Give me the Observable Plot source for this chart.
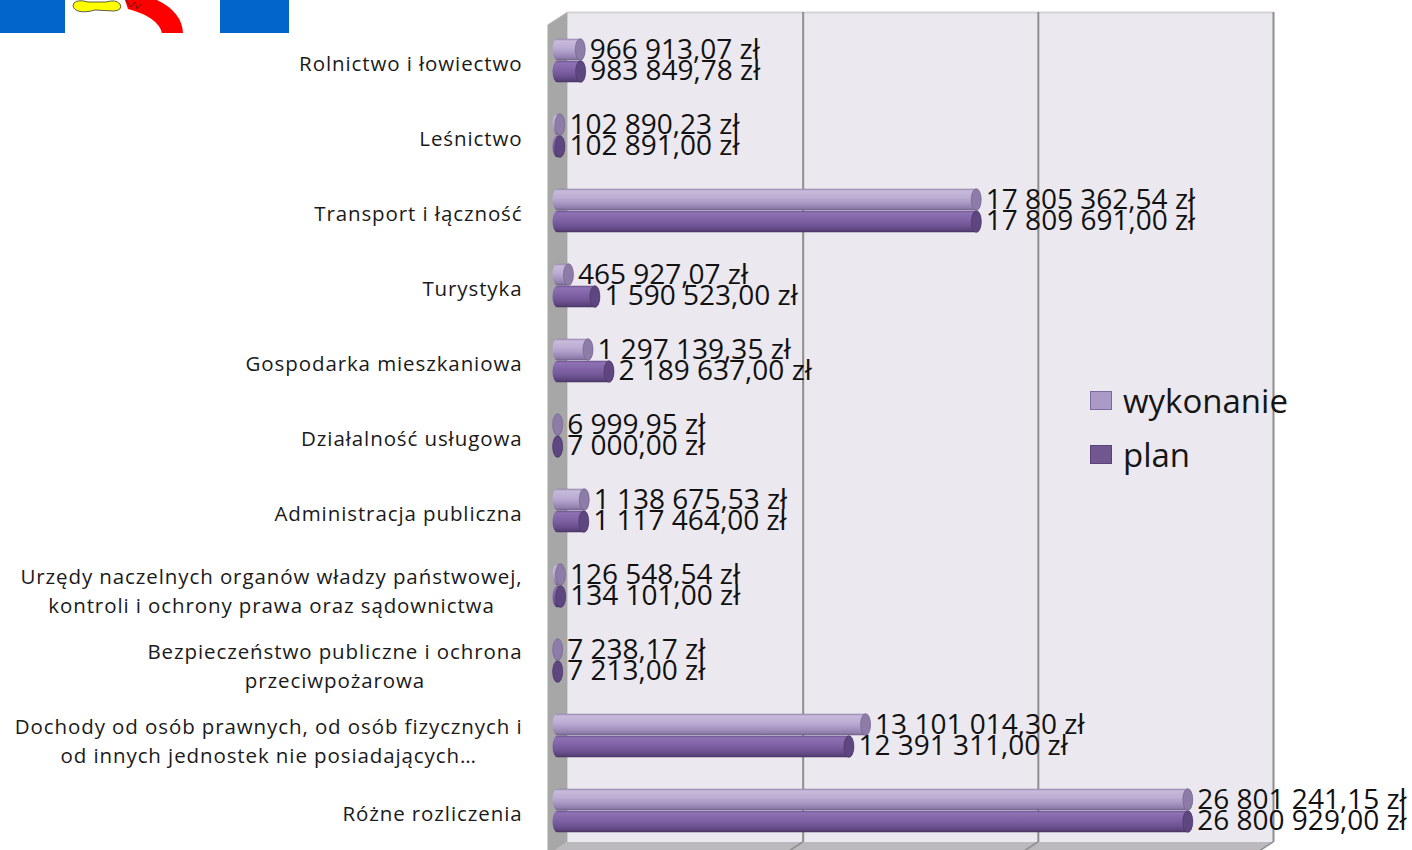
<!DOCTYPE html>
<html>
<head>
<meta charset="utf-8">
<script src="https://cdn.jsdelivr.net/npm/d3@7"></script>
<script src="https://cdn.jsdelivr.net/npm/@observablehq/plot@0.6"></script>
<style>
  html, body { margin: 0; padding: 0; background: #ffffff; }
  #wrap { position: relative; width: 1412px; height: 850px; overflow: hidden; font-family: "Open Sans", sans-serif; }
  #chart { position: absolute; left: 0; top: 0; }
  #logo { position: absolute; left: 0; top: 0; }
  #legend { position: absolute; left: 1090px; top: 378px; }
  .li { display: flex; align-items: center; height: 44px; margin-bottom: 10px; font-size: 33px; color: #151515; }
  .sw { display: inline-block; width: 22px; height: 19px; margin-right: 11px; box-sizing: border-box; }
  g.catlab text { letter-spacing: 0.9px; }
</style>
</head>
<body>
<div id="wrap">
  <div id="chart"></div>
  <svg id="logo" width="300" height="40" viewBox="0 0 300 40">
    <rect x="0" y="0" width="65" height="33" fill="#0066cc"/>
    <rect x="220" y="0" width="69" height="33" fill="#0066cc"/>
    <path d="M125,0 L157,0 Q182,12 183,33 L162,33 Q158,17 128,9 Z" fill="#ff0000"/>
    <path d="M74,3 Q78,-1 88,2 L106,2 Q116,-1 120,4 Q123,10 114,11 L95,10 Q85,13 78,11 Q71,8 74,3 Z" fill="#ffff00" stroke="#333" stroke-width="0.8"/>
    <path d="M126,0 L131,7 L135,2 L137,9 L141,4" fill="none" stroke="#7a1010" stroke-width="1"/>
  </svg>
  <div id="legend"></div>
</div>
<script>
// ---- data ----
const categories = [
  "Rolnictwo i łowiectwo",
  "Leśnictwo",
  "Transport i łączność",
  "Turystyka",
  "Gospodarka mieszkaniowa",
  "Działalność usługowa",
  "Administracja publiczna",
  "Urzędy naczelnych organów władzy państwowej, kontroli i ochrony prawa oraz sądownictwa",
  "Bezpieczeństwo publiczne i ochrona przeciwpożarowa",
  "Dochody od osób prawnych, od osób fizycznych i od innych jednostek nie posiadających...",
  "Różne rozliczenia"
];
const categoryLabels = [
  "Rolnictwo i łowiectwo",
  "Leśnictwo",
  "Transport i łączność",
  "Turystyka",
  "Gospodarka mieszkaniowa",
  "Działalność usługowa",
  "Administracja publiczna",
  "Urzędy naczelnych organów władzy państwowej,\nkontroli i ochrony prawa oraz sądownictwa",
  "Bezpieczeństwo publiczne i ochrona\nprzeciwpożarowa",
  "Dochody od osób prawnych, od osób fizycznych i\nod innych jednostek nie posiadających…",
  "Różne rozliczenia"
];
const wykonanie = [966913.07, 102890.23, 17805362.54, 465927.07, 1297139.35, 6999.95, 1138675.53, 126548.54, 7238.17, 13101014.30, 26801241.15];
const plan = [983849.78, 102891.00, 17809691.00, 1590523.00, 2189637.00, 7000.00, 1117464.00, 134101.00, 7213.00, 12391311.00, 26800929.00];
const seriesNames = ["wykonanie", "plan"];
const xTicks = [0, 10000000, 20000000, 30000000];

// ---- helpers ----
const fmt = d3.formatLocale({decimal: ",", thousands: " ", grouping: [3], currency: ["", ""]}).format(",.2f");
const money = v => fmt(v) + " zł";
const rowsW = categories.map((c, i) => ({category: c, value: wykonanie[i]}));
const rowsP = categories.map((c, i) => ({category: c, value: plan[i]}));

const W = 1412, H = 850;
const labelSize = 20.5;
const ls = 0.9;
const ctx = document.createElement("canvas").getContext("2d");
ctx.font = `${labelSize}px 'Open Sans'`;
const measure = s => ctx.measureText(s).width + ls * s.length;
const labelRight = 522;
const marginLeft = 557.5;

const labelMarks = categories.map((c, i) => {
  const lines = categoryLabels[i].split("\n");
  const w = d3.max(lines, measure);
  return Plot.text([c], {
    y: d => d, text: () => categoryLabels[i],
    frameAnchor: "left", textAnchor: "middle",
    dx: (labelRight - marginLeft) - w / 2, dy: lines.length > 1 ? 3 : 0.5,
    fontSize: labelSize, lineHeight: 1.42, fill: "#1a1a1a",
    className: "catlab"
  });
});

const band = {wTop: 15.7, wBottom: 37.7};
const floorY = 842;
const chart = Plot.plot({
  width: W, height: H,
  marginLeft, marginRight: 149, marginTop: 20, marginBottom: 0,
  x: {domain: [0, 30000000], axis: null},
  y: {domain: categories, axis: null, padding: 0},
  style: {fontFamily: "'Open Sans', sans-serif", background: "transparent", overflow: "visible"},
  marks: [
    Plot.ruleX(xTicks.slice(1), {dx: 10, insetTop: -8, insetBottom: H - floorY - 0, stroke: "#8e8e8e", strokeWidth: 2}),
    // wykonanie cylinders
    Plot.barX(rowsW, {x: "value", y: "category", insetTop: band.wTop, insetBottom: band.wBottom, insetLeft: -5, insetRight: -5, rx: 5, ry: 11, fill: "url(#gradW)"}),
    Plot.barX(rowsW, {x1: "value", x2: "value", y: "category", insetTop: band.wTop, insetBottom: band.wBottom, insetLeft: -5, insetRight: -5, rx: 5, ry: 11, fill: "#8d7ca8", stroke: "#6f6088", strokeWidth: 0.6}),
    // plan cylinders
    Plot.barX(rowsP, {x: "value", y: "category", insetTop: band.wBottom, insetBottom: band.wTop, insetLeft: -5, insetRight: -5, rx: 5, ry: 11, fill: "url(#gradP)"}),
    Plot.barX(rowsP, {x1: "value", x2: "value", y: "category", insetTop: band.wBottom, insetBottom: band.wTop, insetLeft: -5, insetRight: -5, rx: 5, ry: 11, fill: "#5e4680", stroke: "#47355f", strokeWidth: 0.6}),
    // value labels
    Plot.text(rowsW, {x: "value", y: "category", text: d => money(d.value), dx: 9, dy: -11, textAnchor: "start", fontSize: 28, fill: "#111"}),
    Plot.text(rowsP, {x: "value", y: "category", text: d => money(d.value), dx: 9, dy: 10.5, textAnchor: "start", fontSize: 28, fill: "#111"}),
    ...labelMarks
  ]
});

// 3D walls, floor and gradients drawn behind the marks, positioned by the x scale
const xs = chart.scale("x");
const xa = xs.apply(0), xb = xs.apply(30000000);
const svg = d3.select(chart);
const defs = svg.insert("defs", ":first-child");
function grad(id, stops) {
  const g = defs.append("linearGradient").attr("id", id).attr("x1", 0).attr("y1", 0).attr("x2", 0).attr("y2", 1);
  stops.forEach(([o, c]) => g.append("stop").attr("offset", o).attr("stop-color", c));
}
grad("gradW", [[0, "#8f7fa9"], [0.1, "#c7badb"], [0.4, "#bcaed4"], [0.65, "#aa99c5"], [0.9, "#8e7caa"], [1, "#6c5c84"]]);
grad("gradP", [[0, "#6a518c"], [0.1, "#8e72b4"], [0.4, "#8164a7"], [0.7, "#6f5494"], [0.92, "#584178"], [1, "#43325c"]]);
const firstG = chart.querySelector("g");
const wall = document.createElementNS("http://www.w3.org/2000/svg", "g");
chart.insertBefore(wall, firstG);
const wsel = d3.select(wall);
wsel.append("polygon").attr("points", `${xa + 10},12 ${xb + 10},12 ${xb + 10},${floorY} ${xa + 10},${floorY}`).attr("fill", "#ebe8ef");
wsel.append("line").attr("x1", xa + 10).attr("x2", xb + 10).attr("y1", 12.5).attr("y2", 12.5).attr("stroke", "#d4d2d6").attr("stroke-width", 2);
wsel.append("polygon").attr("points", `${xa + 10},${floorY} ${xb + 10},${floorY} ${xb - 10},${floorY + 13} ${xa - 10},${floorY + 13}`).attr("fill", "#bbb8be");
wsel.append("polygon").attr("points", `${xa - 10},25 ${xa + 10},12 ${xa + 10},${floorY} ${xa - 10},${floorY + 13}`).attr("fill", "#a7a7a7");
wsel.append("line").attr("x1", xa - 10).attr("x2", xa + 10).attr("y1", 25).attr("y2", 12).attr("stroke", "#bdbdbd").attr("stroke-width", 1);
xTicks.slice(1).forEach(t => {
  const xt = xs.apply(t);
  wsel.append("line").attr("x1", xt + 10).attr("y1", floorY).attr("x2", xt - 10).attr("y2", floorY + 13).attr("stroke", "#8e8e8e").attr("stroke-width", 1.5);
});

document.getElementById("chart").appendChild(chart);

// legend
const legendColors = {wykonanie: ["#a99ac6", "#7b6a9b"], plan: ["#72568f", "#5a4378"]};
const lg = d3.select("#legend");
seriesNames.forEach(s => {
  const item = lg.append("div").attr("class", "li");
  item.append("span").attr("class", "sw").style("background", legendColors[s][0]).style("border", `1.5px solid ${legendColors[s][1]}`);
  item.append("span").text(s);
});
</script>
</body>
</html>
